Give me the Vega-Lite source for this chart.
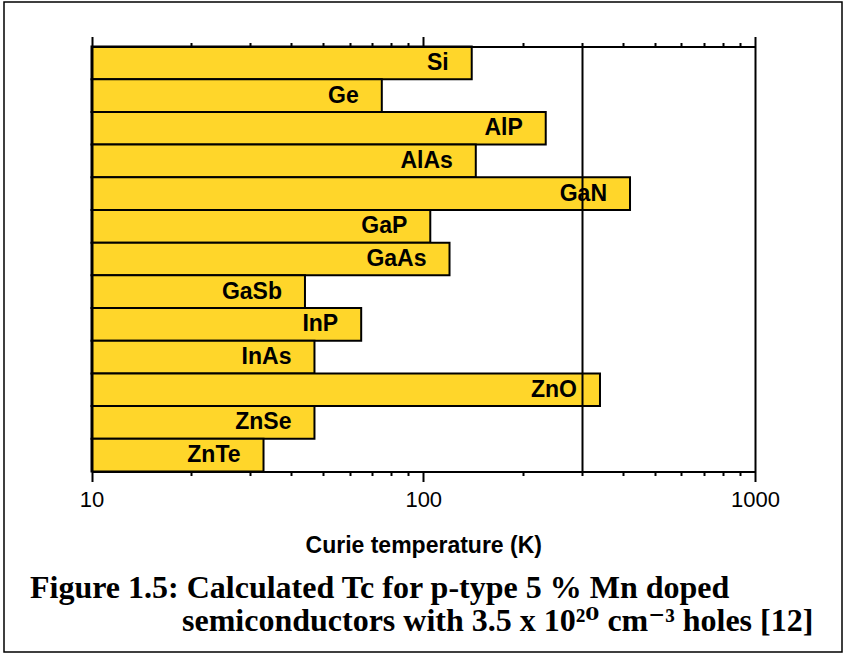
{
  "$schema": "https://vega.github.io/schema/vega-lite/v6.json",
  "width": 838,
  "height": 650,
  "autosize": {"type": "none"},
  "padding": {"left": 4, "top": 2, "right": 6, "bottom": 5},
  "background": "white",
  "config": {"view": {"stroke": "black", "strokeWidth": 1.5}},
  "title": {
    "text": ["Figure 1.5: Calculated Tc for p-type 5 % Mn doped", "\u200b\u00a0\u00a0\u00a0\u00a0\u00a0\u00a0\u00a0\u00a0\u00a0\u00a0\u00a0\u00a0\u00a0\u00a0\u00a0\u00a0\u00a0\u00a0\u00a0semiconductors with 3.5 x 10²⁰ cm⁻³ holes [12]"],
    "orient": "bottom",
    "anchor": "start",
    "frame": "group",
    "dx": 26,
    "offset": -54,
    "baseline": "alphabetic",
    "font": "Liberation Serif, DejaVu Serif",
    "fontSize": 32,
    "fontWeight": "bold",
    "color": "black",
    "lineHeight": 33
  },
  "data": {
    "values": [
      {"material": "Si", "tc": 140},
      {"material": "Ge", "tc": 75},
      {"material": "AlP", "tc": 234},
      {"material": "AlAs", "tc": 144},
      {"material": "GaN", "tc": 420},
      {"material": "GaP", "tc": 105},
      {"material": "GaAs", "tc": 120},
      {"material": "GaSb", "tc": 44},
      {"material": "InP", "tc": 65},
      {"material": "InAs", "tc": 47},
      {"material": "ZnO", "tc": 341},
      {"material": "ZnSe", "tc": 47},
      {"material": "ZnTe", "tc": 33}
    ]
  },
  "encoding": {
    "y": {
      "field": "material",
      "type": "nominal",
      "sort": null,
      "axis": null,
      "scale": {"range": [44.5, 469.5], "padding": 0}
    }
  },
  "layer": [
    {
      "mark": {"type": "bar", "fill": "#FFD62A", "stroke": "black", "strokeWidth": 2},
      "encoding": {
        "x": {
          "field": "tc",
          "type": "quantitative",
          "scale": {"type": "log", "domain": [10, 1000], "range": [87.5, 751], "nice": false},
          "axis": {
            "orient": "bottom",
            "offset": -180.5,
            "values": [10, 20, 30, 40, 50, 60, 70, 80, 90, 100, 200, 300, 400, 500, 600, 700, 800, 900, 1000],
            "labelExpr": "indexof([10,100,1000], datum.value) >= 0 ? '' + datum.value : ''",
            "tickSize": {"condition": {"test": "indexof([10,100,1000], datum.value) >= 0", "value": 10}, "value": 4},
            "tickWidth": 2,
            "tickColor": "black",
            "domainColor": "black",
            "domainWidth": 2,
            "grid": false,
            "labelFont": "Liberation Sans",
            "labelFontSize": 22,
            "labelColor": "black",
            "labelPadding": 8,
            "labelFlush": false,
            "labelOverlap": false,
            "labelBound": false,
            "title": "Curie temperature (K)",
            "titleFont": "Liberation Sans",
            "titleFontSize": 23,
            "titleFontWeight": "bold",
            "titleColor": "black",
            "titlePadding": 24,
            "zindex": 1
          }
        },
        "x2": {"datum": 10}
      }
    },
    {
      "mark": {"type": "text", "align": "right", "baseline": "middle", "dx": -23, "font": "Liberation Sans", "fontSize": 23, "fontWeight": "bold", "color": "black"},
      "encoding": {
        "x": {
          "field": "tc",
          "type": "quantitative",
          "scale": {"type": "log", "domain": [10, 1000], "range": [87.5, 751], "nice": false},
          "axis": {
            "orient": "top",
            "offset": -44.5,
            "values": [10, 20, 30, 40, 50, 60, 70, 80, 90, 100, 200, 300, 400, 500, 600, 700, 800, 900, 1000],
            "labels": false,
            "tickSize": {"condition": {"test": "indexof([10,100,1000], datum.value) >= 0", "value": 10}, "value": 4},
            "tickWidth": 2,
            "tickColor": "black",
            "domainColor": "black",
            "domainWidth": 2,
            "grid": true,
            "gridColor": "black",
            "gridWidth": 2,
            "gridOpacity": {"condition": {"test": "datum.value == 10 || datum.value == 300 || datum.value == 1000", "value": 1}, "value": 0},
            "title": null,
            "zindex": 1
          }
        },
        "text": {"field": "material"}
      }
    }
  ],
  "resolve": {"axis": {"x": "independent"}}
}
